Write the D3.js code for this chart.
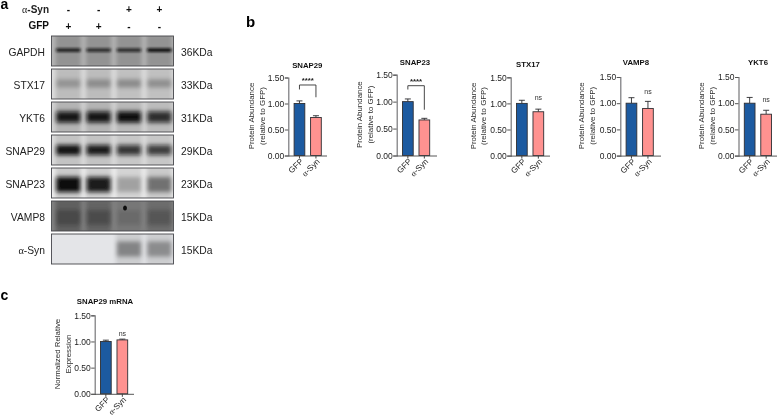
<!DOCTYPE html>
<html><head><meta charset="utf-8">
<script src="https://cdn.jsdelivr.net/npm/d3@7/dist/d3.min.js"></script>
<style>html,body{margin:0;padding:0;background:#fff}svg{display:block}text{font-family:"Liberation Sans",Arial,sans-serif}</style>
</head><body><svg id="c" width="778" height="418"></svg>
<script>
// ---------- data ----------
const groups = ["GFP", "α-Syn"];
const tickValues = [0, 0.5, 1, 1.5];
const panelNames = ["SNAP29", "SNAP23", "STX17", "VAMP8", "YKT6", "SNAP29 mRNA"];
const gfpMeans = [1, 1, 1, 1, 1, 1];
const gfpErrors = [0.05, 0.05, 0.06, 0.105, 0.11, 0.025];
const synMeans = [0.73, 0.66, 0.84, 0.90, 0.79, 1.03];
const synErrors = [0.035, 0.03, 0.05, 0.135, 0.075, 0.015];
const sigLabels = ["****", "****", "ns", "ns", "ns", "ns"];
const bracketTop = [1.356, 1.296];
const bracketLeft = [1.27, 1.225];
const bracketRight = [1.12, 0.85];
const yTitles = [["Protein Abundance","(relative to GFP)"],["Protein Abundance","(relative to GFP)"],["Protein Abundance","(relative to GFP)"],["Protein Abundance","(relative to GFP)"],["Protein Abundance","(relative to GFP)"],["Normalized Relative","Expression"]];

const blotNames = ["GAPDH", "STX17", "YKT6", "SNAP29", "SNAP23", "VAMP8", "α-Syn"];
const blotSizes = ["36KDa", "33KDa", "31KDa", "29KDa", "23KDa", "15KDa", "15KDa"];
const blotBackground = ["#b8b8b8", "#e0e0e0", "#d6d6d6", "#dedede", "#f1f1f1", "#848484", "#e4e5e8"];
const smearDarkness = [
  [0.20, 0.20, 0.20, 0.20],
  [0.16, 0.16, 0.14, 0.14],
  [0.16, 0.16, 0.14, 0.12],
  [0.12, 0.12, 0.10, 0.10],
  [0.16, 0.14, 0.12, 0.16],
  [0.28, 0.24, 0.10, 0.18],
  [0.00, 0.00, 0.10, 0.10]
];
const bandDarkness = [
  [0.82, 0.74, 0.74, 0.92],
  [0.22, 0.26, 0.28, 0.26],
  [0.94, 0.94, 1.00, 0.82],
  [0.98, 0.92, 0.78, 0.74],
  [1.00, 0.92, 0.24, 0.44],
  [0.24, 0.24, 0.10, 0.20],
  [0.00, 0.00, 0.36, 0.32]
];
const bandCentre = [0.47, 0.48, 0.50, 0.50, 0.55, 0.55, 0.50];
const bandThick = [4, 8, 11, 10, 15, 15, 15];
const lanes = ["1", "2", "3", "4"];
const synSigns = ["-", "-", "+", "+"];
const gfpSigns = ["+", "+", "-", "-"];

// ---------- layout ----------
const svg = d3.select("#c");
const defs = svg.append("defs");
const mkF = (id, sd) => defs.append("filter").attr("id", id).attr("x", "-40%").attr("y", "-100%").attr("width", "180%").attr("height", "300%")
    .append("feGaussianBlur").attr("stdDeviation", sd);
mkF("b1", "1.8 1.3"); mkF("b2", "2.3 2"); mkF("b3", "2 3"); mkF("b0", "0.7");
mkF("soft", "0.32");
const root = svg.append("g").attr("filter", "url(#soft)");
defs.select("#soft").attr("filterUnits", "userSpaceOnUse").attr("x", 0).attr("y", 0).attr("width", 778).attr("height", 418);
root.append("rect").attr("width", 778).attr("height", 418).attr("fill", "#fff");

const alphaText = (sel, str) => {
  if (str.startsWith("α")) { sel.append("tspan").style("font-family", '"Liberation Serif",serif').attr("font-weight", "normal").text("α"); sel.append("tspan").text(str.slice(1)); }
  else sel.text(str);
};

// ---------- blots ----------
const blotX0 = 51.5, blotX1 = 173.5;
const rowY = d3.scalePoint().domain(blotNames).range([36, 234]);
const rowH = 30;
const laneX = d3.scalePoint().domain(lanes).range([68.3, 159.3]);
const laneW = 24;
blotNames.forEach((name, r) => {
  const y0 = rowY(name);
  const g = root.append("g");
  const cid = "clip" + r;
  defs.append("clipPath").attr("id", cid).append("rect").attr("x", blotX0).attr("y", y0).attr("width", blotX1 - blotX0).attr("height", rowH);
  const inner = g.append("g").attr("clip-path", `url(#${cid})`);
  inner.append("rect").attr("x", blotX0).attr("y", y0).attr("width", blotX1 - blotX0).attr("height", rowH).attr("fill", blotBackground[r]);
  inner.selectAll("rect.smear").data(lanes).join("rect").attr("class", "smear")
    .attr("x", l => laneX(l) - laneW / 2 - 1).attr("y", y0 - 4).attr("width", laneW + 2).attr("height", rowH + 8)
    .attr("fill", "#111").attr("fill-opacity", (l, i) => smearDarkness[r][i]).attr("filter", "url(#b3)");
  inner.selectAll("rect.band").data(lanes).join("rect").attr("class", "band")
    .attr("x", l => laneX(l) - laneW / 2)
    .attr("y", y0 + rowH * bandCentre[r] - bandThick[r] / 2)
    .attr("width", laneW).attr("height", bandThick[r])
    .attr("fill", "#0c0c0c")
    .attr("fill-opacity", (l, i) => bandDarkness[r][i])
    .attr("filter", bandThick[r] > 7 ? "url(#b2)" : "url(#b1)");
  g.append("rect").attr("x", blotX0).attr("y", y0).attr("width", blotX1 - blotX0).attr("height", rowH)
    .attr("fill", "none").attr("stroke", "#45464a").attr("stroke-width", 0.9);
  g.append("text").attr("x", 45).attr("y", y0 + 19.5).attr("text-anchor", "end").attr("font-size", 10.3).attr("fill", "#222").call(alphaText, name);
  g.append("text").attr("x", 181).attr("y", y0 + 19.5).attr("font-size", 10.3).attr("fill", "#222").text(blotSizes[r]);
});
// VAMP8 speck
root.append("ellipse").attr("cx", 125).attr("cy", 208).attr("rx", 2).attr("ry", 2.6).attr("fill", "#111").attr("filter", "url(#b0)");

const signRow = (signs, y) => {
  root.selectAll(null).data(signs).join("text")
    .attr("x", (d, i) => laneX(lanes[i])).attr("y", y).attr("text-anchor", "middle")
    .attr("font-size", 10).attr("font-weight", "bold").attr("fill", "#111").text(d => d);
};
signRow(synSigns, 12.5);
signRow(gfpSigns, 29.5);
root.append("text").attr("x", 49).attr("y", 12.8).attr("text-anchor", "end").attr("font-size", 10).attr("font-weight", "bold").attr("fill", "#222").call(alphaText, "α-Syn");
root.append("text").attr("x", 49).attr("y", 29.2).attr("text-anchor", "end").attr("font-size", 10).attr("font-weight", "bold").attr("fill", "#111").text("GFP");

// panel letters
[["a", 0.5, 8.5, 14], ["b", 246, 27.3, 15], ["c", 0.5, 300, 14]].forEach(([t, x, y, s]) =>
  root.append("text").attr("x", x).attr("y", y).attr("font-size", s).attr("font-weight", "bold").attr("fill", "#000").text(t));

// ---------- bar panels ----------
const frames = [
  {ax: 288.3, end: 327, top: 77.5, base: 155.5, titleX: 307.3, titleY: 67.7, tx: 254},
  {ax: 396.7, end: 437, top: 74.7, base: 155.5, titleX: 415, titleY: 65.3, tx: 362},
  {ax: 510.7, end: 550, top: 77.3, base: 155.6, titleX: 528, titleY: 67, tx: 475.5},
  {ax: 620.3, end: 661, top: 77, base: 155.6, titleX: 636, titleY: 65, tx: 584},
  {ax: 738.5, end: 777, top: 77, base: 155.6, titleX: 758, titleY: 65, tx: 704},
  {ax: 94.7, end: 134, top: 315.3, base: 393.8, titleX: 105, titleY: 304.3, tx: 60}
];
const colors = {"GFP": "#1f5aa0", "α-Syn": "#ff9290"};
const nsGap = [0, 0, 9, 7, 8.5, 3];

frames.forEach((f, i) => {
  const y = d3.scaleLinear().domain([0, 1.5]).range([f.base, f.top]);
  const x = d3.scaleBand().domain(groups).range([f.ax + 5.8, f.ax + 33]).paddingInner(0.35).paddingOuter(0);
  const g = root.append("g");
  const vals = [{k: groups[0], m: gfpMeans[i], e: gfpErrors[i]}, {k: groups[1], m: synMeans[i], e: synErrors[i]}];
  const cx = d => x(d.k) + x.bandwidth() / 2;

  g.selectAll("line.err").data(vals).join("line").attr("class", "err").attr("x1", cx).attr("x2", cx)
    .attr("y1", d => y(d.m)).attr("y2", d => y(d.m + d.e)).attr("stroke", "#2a2a2e").attr("stroke-width", 0.9);
  g.selectAll("line.cap").data(vals).join("line").attr("class", "cap").attr("x1", d => cx(d) - 3).attr("x2", d => cx(d) + 3)
    .attr("y1", d => y(d.m + d.e)).attr("y2", d => y(d.m + d.e)).attr("stroke", "#2a2a2e").attr("stroke-width", 0.9);
  g.selectAll("rect.bar").data(vals).join("rect").attr("class", "bar")
    .attr("x", d => x(d.k)).attr("width", x.bandwidth())
    .attr("y", d => y(d.m)).attr("height", d => y(0) - y(d.m))
    .attr("fill", d => colors[d.k]).attr("stroke", "#2f2f33").attr("stroke-width", 0.9);

  const yAxis = d3.axisLeft(y).tickValues(tickValues).tickFormat(d3.format(".2f")).tickSize(3.5).tickPadding(0.5);
  const ya = g.append("g").attr("transform", `translate(${f.ax},0)`).call(yAxis);
  ya.select(".domain").attr("stroke", "#77777a").attr("stroke-width", 1.2);
  ya.selectAll(".tick line").attr("stroke", "#555");
  ya.selectAll("text").attr("font-size", 8.5).attr("fill", "#222").style("font-family", '"Liberation Sans",Arial,sans-serif');

  const xAxis = d3.axisBottom(x).tickSize(3);
  const xa = g.append("g").attr("transform", `translate(0,${f.base})`).call(xAxis);
  xa.select(".domain").attr("d", `M${f.ax},0.5H${f.end}`).attr("stroke", "#444").attr("stroke-width", 0.9);
  xa.selectAll(".tick line").attr("stroke", "#444");
  xa.selectAll("text").attr("font-size", 8.2).attr("fill", "#222")
    .style("font-family", '"Liberation Sans",Arial,sans-serif')
    .attr("text-anchor", "end").attr("transform", "rotate(-45)").attr("x", -1.5).attr("y", 5).attr("dy", "0.32em");
  xa.selectAll(".tick text").filter(d => d === "α-Syn").each(function() {
    d3.select(this).text(null).call(alphaText, "α-Syn");
  });

  const tcy = (f.top + f.base) / 2 - 0.5;
  g.append("text").attr("transform", `translate(${f.tx},${tcy}) rotate(-90)`).attr("text-anchor", "middle")
    .attr("font-size", 7.9).attr("fill", "#2a2a2a").selectAll("tspan").data(yTitles[i]).join("tspan")
    .attr("x", 0).attr("dy", (d, j) => j ? 10.5 : 0).text(d => d);

  g.append("text").attr("x", f.titleX).attr("y", f.titleY).attr("text-anchor", "middle")
    .attr("font-size", 7.8).attr("font-weight", "bold").attr("fill", "#111").text(panelNames[i]);

  const c0 = cx(vals[0]), c1 = cx(vals[1]);
  if (sigLabels[i] === "****") {
    const yTop = y(bracketTop[i]);
    g.append("path").attr("d", d3.line()([[c0, y(bracketLeft[i])], [c0, yTop], [c1, yTop], [c1, y(bracketRight[i])]]))
      .attr("fill", "none").attr("stroke", "#333").attr("stroke-width", 0.9);
    g.append("text").attr("x", (c0 + c1) / 2).attr("y", yTop - 2).attr("text-anchor", "middle")
      .attr("font-size", 7.8).attr("font-weight", "bold").attr("fill", "#222").text("****");
  } else {
    g.append("text").attr("x", c1).attr("y", y(vals[1].m + vals[1].e) - nsGap[i]).attr("text-anchor", "middle")
      .attr("font-size", 7).attr("fill", "#333").text("ns");
  }
});
</script></body></html>
